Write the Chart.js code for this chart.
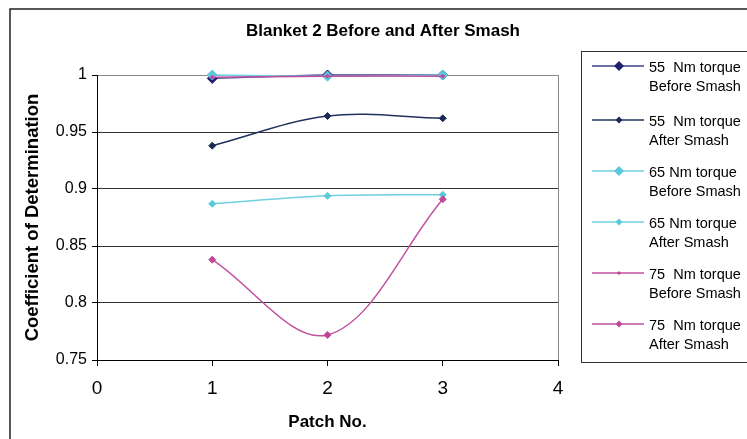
<!DOCTYPE html>
<html>
<head>
<meta charset="utf-8">
<script src="https://cdn.jsdelivr.net/npm/chart.js@4"></script>
<style>
  body { margin: 0; background: #fff; }
  #wrap { width: 747px; height: 439px; position: relative; }
</style>
</head>
<body>
<div id="wrap"><canvas id="blanketChart"></canvas></div>
<script>
const patches = [1, 2, 3];
const xTicks = [0, 1, 2, 3, 4];
const yTicks = [0.75, 0.8, 0.85, 0.9, 0.95, 1];

const before55 = [0.997, 1.0, 1.0];
const after55 = [0.938, 0.964, 0.962];
const before65 = [1.0, 0.999, 1.0];
const after65 = [0.887, 0.894, 0.895];
const before75 = [0.998, 0.999, 0.999];
const after75 = [0.838, 0.772, 0.891];

const seriesNames = [
  ["55  Nm torque", "Before Smash"],
  ["55  Nm torque", "After Smash"],
  ["65 Nm torque", "Before Smash"],
  ["65 Nm torque", "After Smash"],
  ["75  Nm torque", "Before Smash"],
  ["75  Nm torque", "After Smash"],
];

const FONT = '"Liberation Sans", Arial, sans-serif';
Chart.defaults.font.family = FONT;
Chart.defaults.color = "#000";

function toPoints(values) {
  return values.map((v, i) => ({ x: patches[i], y: v }));
}

function series(idx, values, line, marker, radius) {
  return {
    label: seriesNames[idx].join(" "),
    data: toPoints(values),
    borderColor: line,
    backgroundColor: marker,
    pointBackgroundColor: marker,
    pointBorderColor: marker,
    pointStyle: "rectRot",
    pointRadius: radius,
    pointHoverRadius: radius,
    pointBorderWidth: 1,
    borderWidth: 1.5,
    tension: 0.35,
    clip: false,
    order: 10 - idx,
  };
}

// draws title, outer frame, right border of plot and the boxed legend
const decorPlugin = {
  id: "decor",
  afterDraw(chart) {
    const { ctx, chartArea } = chart;
    ctx.save();

    ctx.strokeStyle = "#222";
    ctx.lineWidth = 1.5;
    ctx.beginPath();
    ctx.moveTo(10, 450);
    ctx.lineTo(10, 9);
    ctx.lineTo(760, 9);
    ctx.stroke();

    ctx.strokeStyle = "#888";
    ctx.lineWidth = 1;
    ctx.beginPath();
    ctx.moveTo(chartArea.right + 0.5, chartArea.top);
    ctx.lineTo(chartArea.right + 0.5, chartArea.bottom);
    ctx.stroke();

    ctx.fillStyle = "#000";
    ctx.font = "bold 17px " + FONT;
    ctx.textAlign = "center";
    ctx.textBaseline = "middle";
    ctx.fillText("Blanket 2 Before and After Smash", 383, 31);

    ctx.strokeStyle = "#333";
    ctx.lineWidth = 1;
    ctx.strokeRect(581.5, 51.5, 200, 311);

    const rowY = [66, 120, 171, 222, 273, 324];
    chart.data.datasets.forEach((ds, i) => {
      const y = rowY[i];
      ctx.strokeStyle = ds.borderColor;
      ctx.lineWidth = ds.borderWidth;
      ctx.beginPath();
      ctx.moveTo(592, y);
      ctx.lineTo(644, y);
      ctx.stroke();

      const r = ds.pointRadius;
      ctx.fillStyle = ds.pointBackgroundColor;
      ctx.beginPath();
      ctx.moveTo(619, y - r);
      ctx.lineTo(619 + r, y);
      ctx.lineTo(619, y + r);
      ctx.lineTo(619 - r, y);
      ctx.closePath();
      ctx.fill();

      ctx.fillStyle = "#000";
      ctx.font = "14.5px " + FONT;
      ctx.textAlign = "left";
      ctx.fillText(seriesNames[i][0], 649, y + 2);
      ctx.fillText(seriesNames[i][1], 649, y + 21);
    });

    ctx.restore();
  },
};

const chart = new Chart(document.getElementById("blanketChart"), {
  type: "line",
  data: {
    datasets: [
      series(0, before55, "#3f3f8f", "#202070", 5),
      series(1, after55, "#22325e", "#1a2a55", 3.5),
      series(2, before65, "#6fd0e0", "#5cc8dc", 5),
      series(3, after65, "#6fd0e0", "#5cc8dc", 3.5),
      series(4, before75, "#c050a0", "#c04898", 2),
      series(5, after75, "#c050a0", "#c04898", 3.5),
    ],
  },
  options: {
    responsive: true,
    maintainAspectRatio: false,
    animation: false,
    layout: { padding: { left: 0, top: 75, right: 189, bottom: 0 } },
    plugins: {
      legend: { display: false },
      tooltip: { enabled: false },
    },
    scales: {
      x: {
        type: "linear",
        min: xTicks[0],
        max: xTicks[xTicks.length - 1],
        afterBuildTicks: (scale) => {
          scale.ticks = xTicks.map((v) => ({ value: v }));
        },
        afterFit: (scale) => {
          scale.height = 79;
        },
        ticks: { font: { size: 19 }, padding: 11, color: "#000" },
        grid: { drawOnChartArea: false, tickLength: 6, tickColor: "#000" },
        border: { color: "#000", width: 1 },
        title: {
          display: true,
          text: "Patch No.",
          font: { size: 17, weight: "bold" },
          padding: { top: 0, bottom: 6 },
        },
      },
      y: {
        min: yTicks[0],
        max: yTicks[yTicks.length - 1],
        afterBuildTicks: (scale) => {
          scale.ticks = yTicks.map((v) => ({ value: v }));
        },
        afterFit: (scale) => {
          scale.width = 97;
        },
        ticks: {
          font: { size: 16 },
          padding: 5,
          color: "#000",
          callback: (v) => String(Number(v.toFixed(2))),
        },
        grid: {
          color: (c) => (c.tick && c.tick.value === 1 ? "#888" : "#333"),
          tickColor: "#000",
          tickLength: 5,
        },
        border: { color: "#000", width: 1 },
        title: {
          display: true,
          text: "Coefficient of Determination",
          font: { size: 18.5, weight: "bold" },
          padding: { top: 22, bottom: 0 },
        },
      },
    },
  },
  plugins: [decorPlugin],
});
</script>
</body>
</html>
